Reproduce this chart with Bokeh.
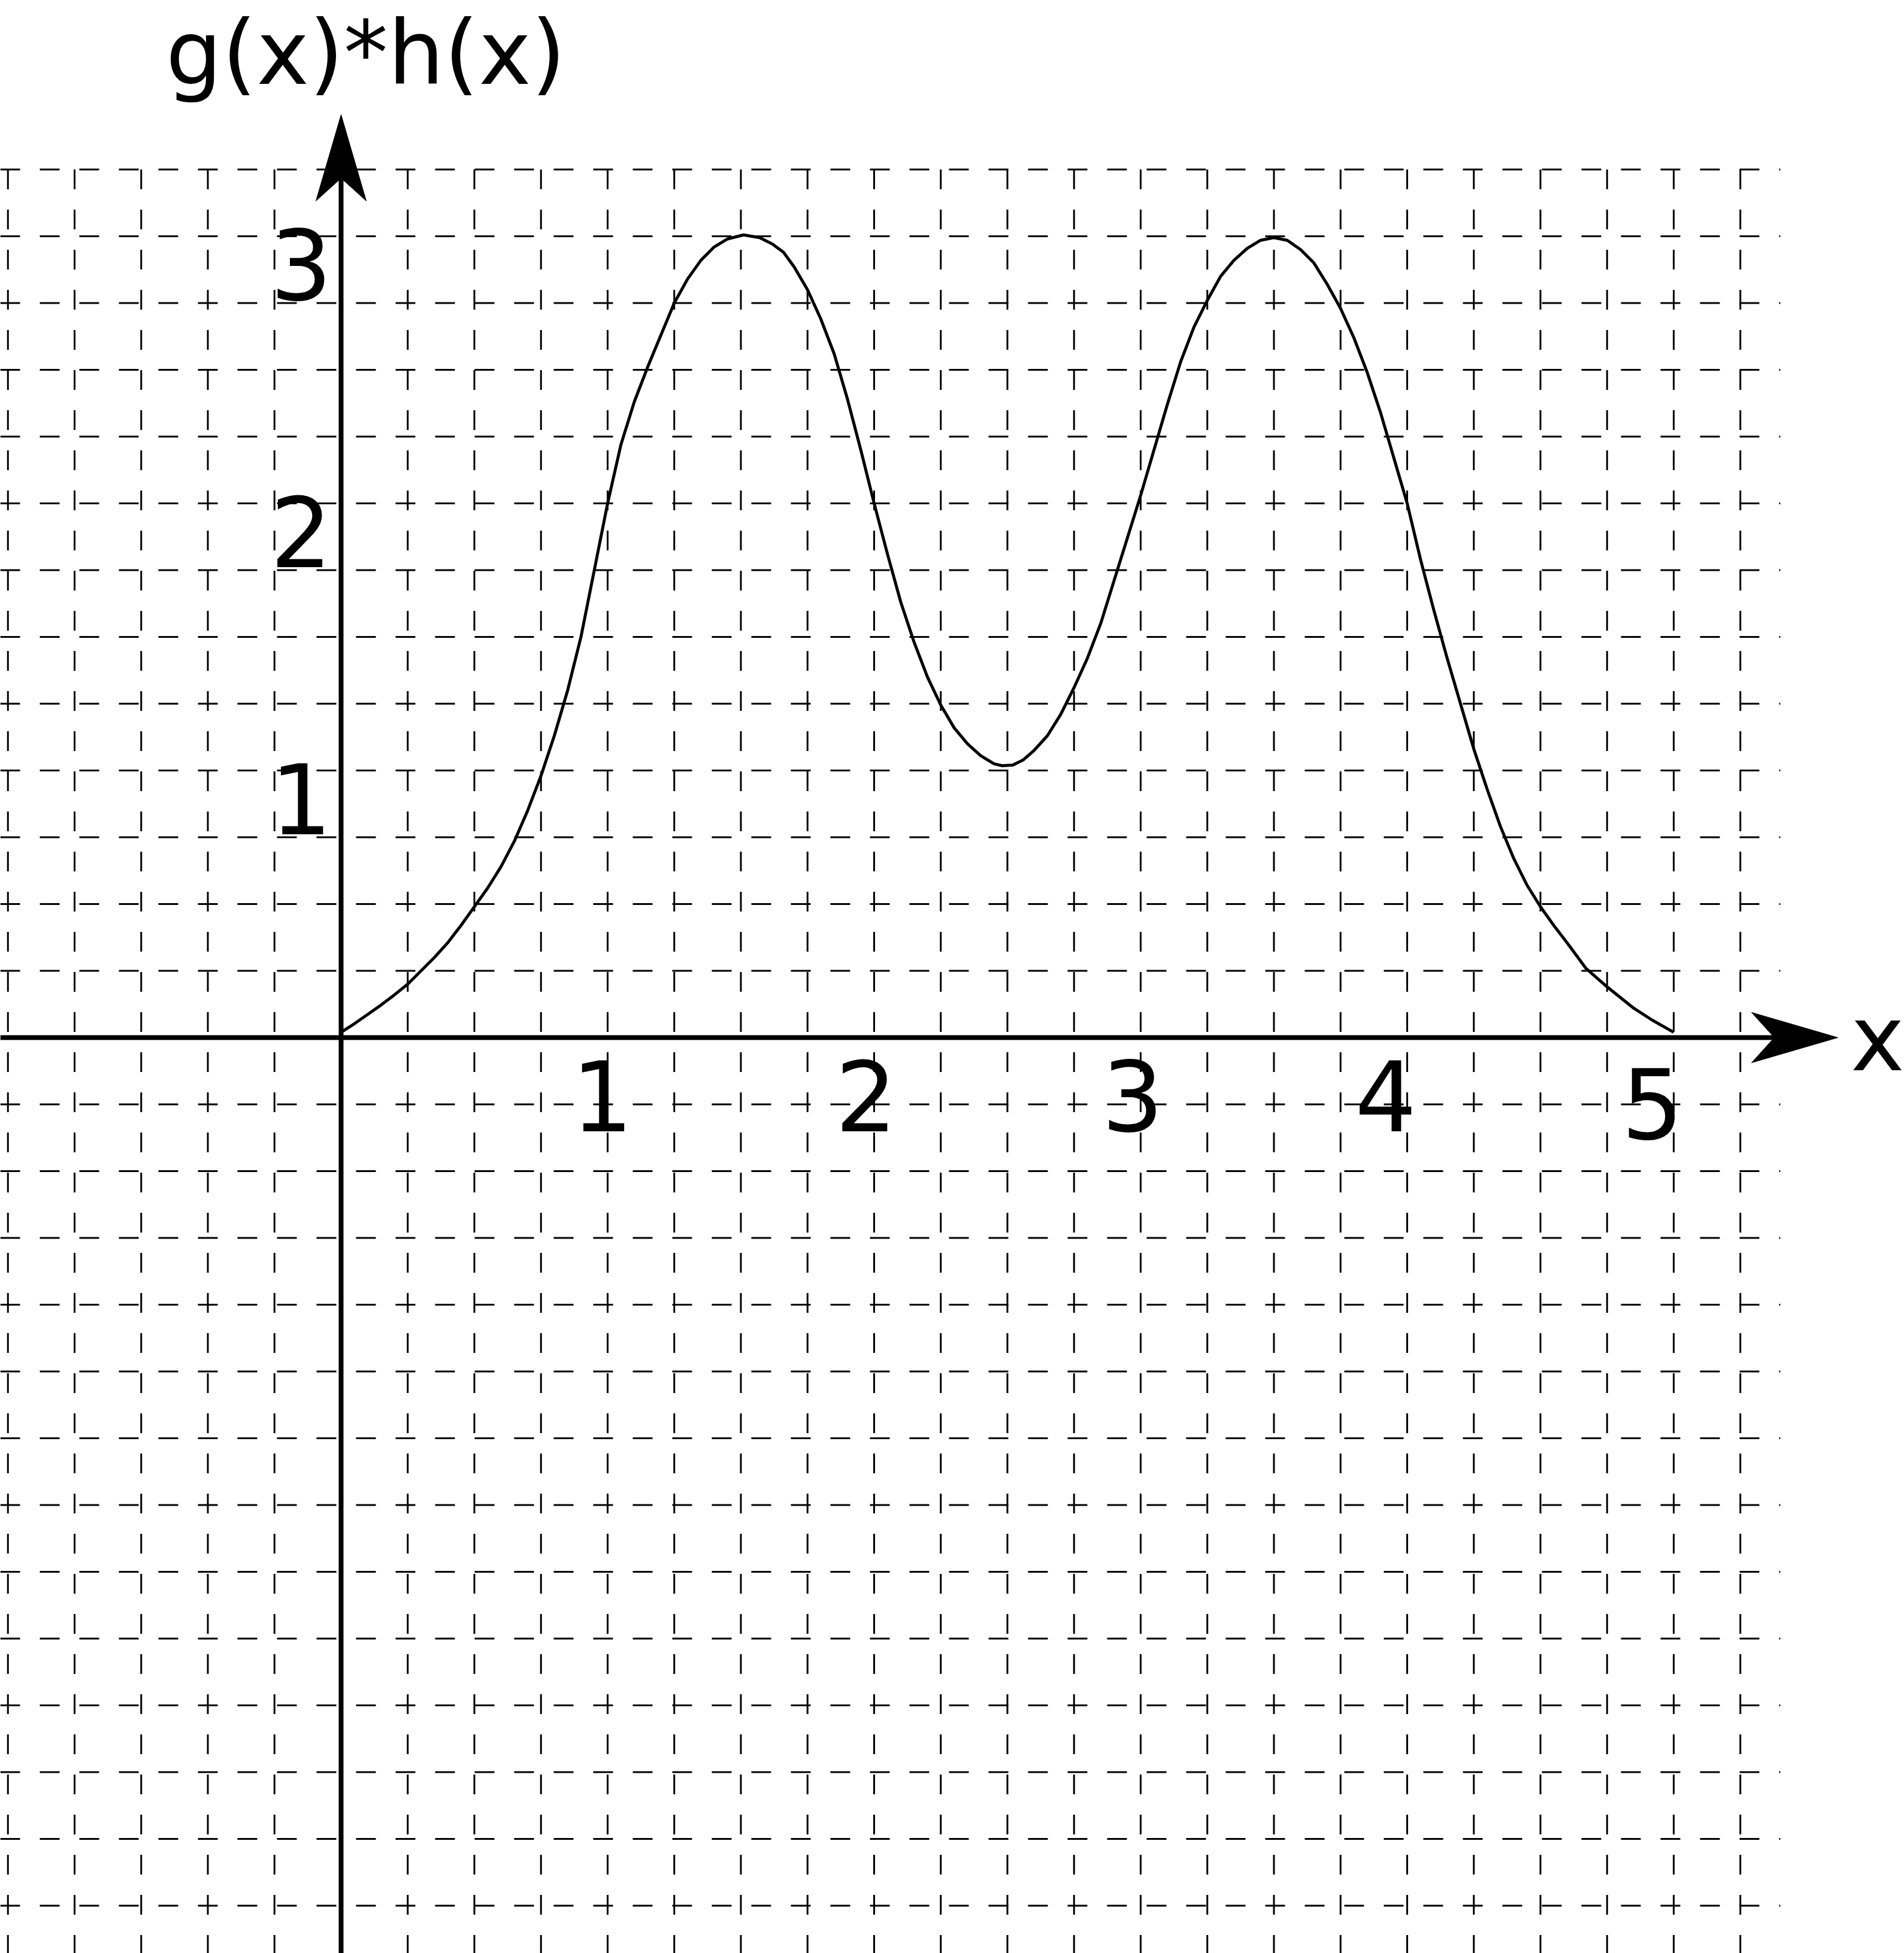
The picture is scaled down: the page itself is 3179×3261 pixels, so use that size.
import numpy as np
from bokeh.plotting import figure
from bokeh.models import Range1d
from bokeh.core.properties import value
from bokeh.embed import file_html
from bokeh.resources import INLINE

# ---- data ----
curve_x = [0.00, 0.05, 0.10, 0.15, 0.20, 0.25, 0.30, 0.35, 0.40, 0.45, 0.50, 0.55,
           0.60, 0.65, 0.70, 0.75, 0.80, 0.85, 0.90, 0.95, 1.00, 1.05, 1.10, 1.15,
           1.20, 1.25, 1.30, 1.35, 1.40, 1.45, 1.51, 1.57, 1.62, 1.66, 1.70, 1.75,
           1.80, 1.85, 1.90, 1.95, 2.00, 2.05, 2.10, 2.15, 2.20, 2.25, 2.30, 2.35,
           2.40, 2.45, 2.48, 2.52, 2.56, 2.60, 2.65, 2.70, 2.75, 2.80, 2.85, 2.90,
           2.95, 3.00, 3.05, 3.10, 3.15, 3.20, 3.25, 3.30, 3.35, 3.40, 3.45, 3.50,
           3.55, 3.60, 3.65, 3.70, 3.75, 3.80, 3.85, 3.90, 3.95, 4.00, 4.05, 4.10,
           4.15, 4.20, 4.25, 4.30, 4.35, 4.40, 4.45, 4.50, 4.55, 4.60, 4.67, 4.75,
           4.85, 4.92, 5.00]
curve_y = [0.02, 0.052, 0.087, 0.122, 0.16, 0.20, 0.25, 0.30, 0.355, 0.42, 0.49, 0.56,
           0.64, 0.735, 0.85, 0.98, 1.13, 1.30, 1.50, 1.75, 2.00, 2.22, 2.38, 2.51,
           2.63, 2.75, 2.84, 2.91, 2.96, 2.99, 3.005, 2.995, 2.97, 2.94, 2.885, 2.80,
           2.69, 2.56, 2.39, 2.20, 2.00, 1.81, 1.63, 1.48, 1.35, 1.245, 1.16, 1.10,
           1.055, 1.025, 1.018, 1.02, 1.04, 1.075, 1.13, 1.21, 1.31, 1.42, 1.55, 1.71,
           1.87, 2.03, 2.20, 2.37, 2.53, 2.66, 2.76, 2.85, 2.91, 2.955, 2.985, 2.995,
           2.985, 2.95, 2.90, 2.82, 2.73, 2.62, 2.49, 2.34, 2.17, 2.00, 1.79, 1.60,
           1.42, 1.25, 1.08, 0.93, 0.79, 0.67, 0.57, 0.49, 0.42, 0.355, 0.26, 0.19,
           0.11, 0.065, 0.02]

x_ticks = [1, 2, 3, 4, 5]
x_tick_labels = ["1", "2", "3", "4", "5"]
y_ticks = [1, 2, 3]
y_tick_labels = ["1", "2", "3"]
y_title = "g(x)*h(x)"
x_title = "x"

grid_step = 0.25
grid_x_min, grid_x_max = -1.25, 5.25
grid_y_min, grid_y_max = -3.25, 3.25
grid_h_right = 5.40

# ---- layout ----
W, H = 3179, 3261
PX, PY = 445.0, 446.0            # pixels per unit
ORIG_X, ORIG_Y = 569.0, 1732.0   # origin position inside canvas (px)
x_start = -ORIG_X / PX
x_end = x_start + W / PX
y_end = ORIG_Y / PY
y_start = y_end - H / PY

p = figure(width=W, height=H, x_range=Range1d(x_start, x_end),
           y_range=Range1d(y_start, y_end), output_backend="svg",
           toolbar_location=None, x_axis_type=None, y_axis_type=None,
           min_border=0, outline_line_color=None)
p.background_fill_color = "white"
p.border_fill_color = "white"

# dashed grid
gx = [v for v in np.arange(grid_x_min, grid_x_max + 1e-9, grid_step) if abs(v) > 1e-9]
gy = [v for v in np.arange(grid_y_min, grid_y_max + 1e-9, grid_step) if abs(v) > 1e-9]
p.segment(x0=gx, y0=[grid_y_max] * len(gx), x1=gx, y1=[y_start] * len(gx),
          line_color="black", line_width=3, line_dash="33 34")
p.segment(x0=[x_start] * len(gy), y0=gy, x1=[grid_h_right] * len(gy), y1=gy,
          line_color="black", line_width=3, line_dash="33 33")

# axes with arrowheads
a_len, a_notch, a_half = 144.0, 106.0, 42.0   # px
x_tip = (3068 - ORIG_X) / PX
y_tip = (ORIG_Y - 191) / PY
p.line([x_start, x_tip - a_notch / PX], [0, 0], line_color="black", line_width=8)
p.line([0, 0], [y_start, y_tip - a_notch / PY], line_color="black", line_width=8)
p.patch([x_tip, x_tip - a_len / PX, x_tip - a_notch / PX, x_tip - a_len / PX],
        [0, a_half / PY, 0, -a_half / PY], color="black", line_width=1)
p.patch([0, a_half / PX, 0, -a_half / PX],
        [y_tip, y_tip - a_len / PY, y_tip - a_notch / PY, y_tip - a_len / PY],
        color="black", line_width=1)

# curve
p.line(curve_x, curve_y, line_color="black", line_width=5, line_join="round")

# texts (baseline correction for rendered offset, in px -> data)
font = value("DejaVu Sans")
def lift(fs):
    return 0.37 * fs / PY

x_lab_dx = [-0.02, -0.03, -0.03, -0.08, -0.08]
x_lab_dy = [-0.352, -0.352, -0.352, -0.352, -0.381]
p.text(x=[t + d for t, d in zip(x_ticks, x_lab_dx)], y=[d + lift(162) for d in x_lab_dy],
       text=x_tick_labels, text_font=font, text_font_size="162px", text_align="center",
       text_baseline="alphabetic", text_color="black")
p.text(x=[-0.15] * len(y_ticks), y=[t - 0.24 + lift(162) for t in y_ticks], text=y_tick_labels,
       text_font=font, text_font_size="162px", text_align="center",
       text_baseline="alphabetic", text_color="black")
p.text(x=[-0.658], y=[3.594 - 14 / PY + lift(148)], text=[y_title], text_font=font,
       text_font_size="148px", text_align="left", text_baseline="alphabetic",
       text_color="black")
p.text(x=[5.765], y=[-0.13 + lift(152)], text=[x_title], text_font=font,
       text_font_size="152px", text_align="center", text_baseline="alphabetic",
       text_color="black")

open("out.html", "w").write(file_html(p, INLINE))
